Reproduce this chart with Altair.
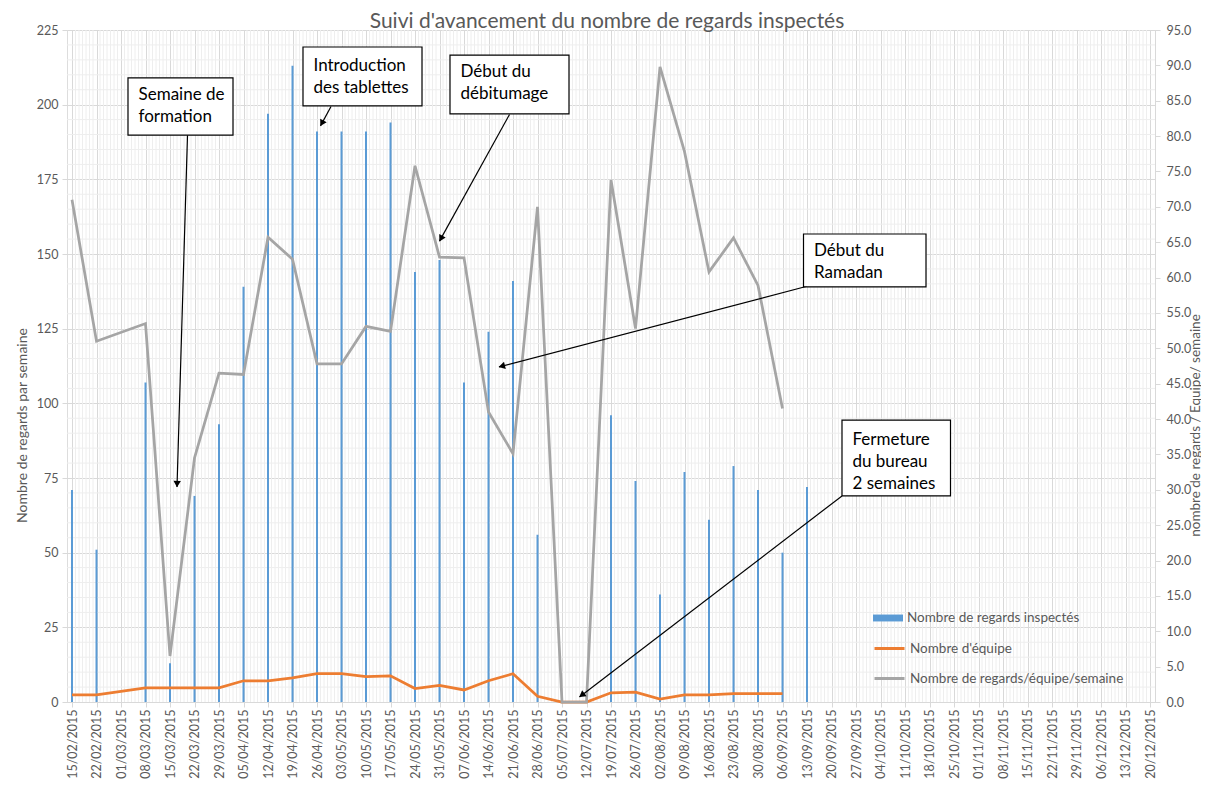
import math
import altair as alt
import pandas as pd

# ---------------- data ----------------
weeks = ["2015-02-15", "2015-02-22", "2015-03-01", "2015-03-08", "2015-03-15", "2015-03-22",
         "2015-03-29", "2015-04-05", "2015-04-12", "2015-04-19", "2015-04-26", "2015-05-03",
         "2015-05-10", "2015-05-17", "2015-05-24", "2015-05-31", "2015-06-07", "2015-06-14",
         "2015-06-21", "2015-06-28", "2015-07-05", "2015-07-12", "2015-07-19", "2015-07-26",
         "2015-08-02", "2015-08-09", "2015-08-16", "2015-08-23", "2015-08-30", "2015-09-06",
         "2015-09-13"]
regards = [71, 51, None, 107, 13, 69, 93, 139, 197, 213, 191, 191, 191, 194, 144, 148, 107,
           124, 141, 56, 0, 0, 96, 74, 36, 77, 61, 79, 71, 50, 72]
equipes = [1, 1, None, 2, 2, 2, 2, 3, 3, 3.4, 4, 4, 3.6, 3.7, 1.9, 2.35, 1.7, 3, 4, 0.8,
           0, 0, 1.3, 1.4, 0.4, 1.0, 1.0, 1.2, 1.2, 1.2, None]
ratio = [71, 51, None, 53.5, 6.5, 34.5, 46.5, 46.3, 65.7, 62.6, 47.8, 47.8, 53.1, 52.4, 75.8,
         62.9, 62.8, 41.0, 35.1, 70.0, 0, 0, 73.8, 52.8, 89.8, 77.8, 60.8, 65.6, 58.9, 41.5, None]

axis_start = "2015-02-15"
axis_end = "2015-12-20"

title_text = "Suivi d'avancement du nombre de regards inspectés"
left_title = "Nombre de regards par semaine"
right_title = "nombre de regards / Equipe/ semaine"
s_bar = "Nombre de regards inspectés"
s_eq = "Nombre d'équipe"
s_ratio = "Nombre de regards/équipe/semaine"

# annotations (data units: date, left-axis value)
box_x0 = ["2015-03-03", "2015-04-22", "2015-06-03", "2015-09-12", "2015-09-23"]
box_x1 = ["2015-04-02", "2015-05-26", "2015-07-07", "2015-10-17", "2015-10-24"]
box_top = [209, 219.3, 216.6, 156.7, 94.4]
box_bot = [189.8, 199.6, 196.9, 139, 69]
text_x = ["2015-03-06", "2015-04-25", "2015-06-06", "2015-09-15", "2015-09-26"]
text_y = [203.2, 212.9, 210.9, 151.0, 87.7]   # first line of each text
texts = ["Semaine de\nformation", "Introduction\ndes tablettes", "Début du\ndébitumage",
         "Début du\nRamadan", "Fermeture\ndu bureau\n2 semaines"]

arr_x0 = ["2015-03-20", "2015-04-30", "2015-06-20", "2015-09-13", "2015-09-23"]
arr_y0 = [189.8, 199.4, 196.7, 139.2, 69]
arr_x1 = ["2015-03-17", "2015-04-27", "2015-05-31", "2015-06-17", "2015-07-10"]
arr_y1 = [72.0, 192.9, 154.3, 112.2, 1.7]

# ---------------- layout ----------------
W, H = 1088, 672
LMAX, RMAX = 225, 95
FONT = "Lato"
TXT = "#595959"
MAJOR = "#D9D9D9"
MINOR = "#EEEEEE"

start = pd.Timestamp(axis_start)
end = pd.Timestamp(axis_end)
ndays = (end - start).days
sx = W / ndays
sy = H / LMAX


def dt(ts):
    return alt.DateTime(year=ts.year, month=ts.month, date=ts.day)


tick_dates = pd.date_range(start, end, freq="7D")
xscale = alt.Scale(domain=[dt(start), dt(end)], nice=False)
xaxis = alt.Axis(values=[dt(d) for d in tick_dates], format="%d/%m/%Y", labelAngle=270,
                 labelFont=FONT, labelFontSize=12.5, labelColor=TXT, grid=True, gridColor=MAJOR,
                 tickColor=MAJOR, domainColor=MAJOR, tickSize=5, labelPadding=2, title=None,
                 labelOverlap=False, labelFlush=False)


def X(field):
    return alt.X(f"{field}:T", scale=xscale, axis=xaxis)


lscale = alt.Scale(domain=[0, LMAX], nice=False, zero=True)
rscale = alt.Scale(domain=[0, RMAX], nice=False, zero=True)

left_axis = alt.Axis(orient="left", values=list(range(0, LMAX + 1, 25)), grid=True,
                     gridColor=MAJOR, domain=False, tickColor=MAJOR, tickSize=5,
                     labelFont=FONT, labelFontSize=12.5, labelColor=TXT, labelPadding=4,
                     title=left_title, titleFont=FONT, titleFontSize=14, titleColor=TXT,
                     titleFontWeight="normal", titleAngle=270, titleAlign="center",
                     titleBaseline="middle", titleX=-45, titleY=395)
right_axis = alt.Axis(orient="right", values=list(range(0, RMAX + 1, 5)), format=".1f",
                      grid=False, domainColor=MAJOR, tickColor=MAJOR, tickSize=5,
                      labelFont=FONT, labelFontSize=12.5, labelColor=TXT, labelPadding=6,
                      title=right_title, titleFont=FONT, titleFontSize=13.5, titleColor=TXT,
                      titleFontWeight="normal", titleAngle=270, titleAlign="center",
                      titleBaseline="middle", titleX=40, titleY=395)

# ---------------- frames ----------------
wk = pd.to_datetime(weeks)
bars_df = pd.DataFrame({"date": wk, "regards": regards, "serie": s_bar})
bars_df = bars_df[bars_df["regards"].notna() & (bars_df["regards"] > 0)]

rows = []
for d, e, r in zip(wk, equipes, ratio):
    if e is not None:
        rows.append({"date": d, "val": e, "serie": s_eq})
    if r is not None:
        rows.append({"date": d, "val": r, "serie": s_ratio})
lines_df = pd.DataFrame(rows)

all_days = pd.date_range(start, end, freq="D")
minor_v_df = pd.DataFrame({"d": [d for d in all_days if (d - start).days % 7 != 0]})
minor_h_df = pd.DataFrame({"v": [v for v in range(5, LMAX, 5) if v % 25 != 0]})

arrows_df = pd.DataFrame({"x0": pd.to_datetime(arr_x0), "y0": arr_y0,
                          "x1": pd.to_datetime(arr_x1), "y1": arr_y1})
heads = []
L = 4.0
for a in arrows_df.itertuples():
    ddays = (a.x1 - a.x0) / pd.Timedelta(days=1)
    dx = ddays * sx
    dy = -(a.y1 - a.y0) * sy
    ln = math.hypot(dx, dy)
    ux, uy = dx / ln, dy / ln
    ang = math.degrees(math.atan2(dx, -dy)) % 360
    hx = a.x1 - pd.Timedelta(hours=24 * ux * L / sx)
    hy = a.y1 + uy * L / sy
    heads.append({"hx": hx, "hy": hy, "ang": ang})
heads_df = pd.DataFrame(heads)

boxes_df = pd.DataFrame({"x0": pd.to_datetime(box_x0), "x1": pd.to_datetime(box_x1),
                         "top": box_top, "bot": box_bot})
texts_df = pd.DataFrame({"tx": pd.to_datetime(text_x), "ty": text_y, "label": texts})
title_df = pd.DataFrame({"t": [title_text]})

# ---------------- layers ----------------
minor_v = alt.Chart(minor_v_df).mark_rule(color=MINOR, strokeWidth=1).encode(x=X("d"))
minor_h = alt.Chart(minor_h_df).mark_rule(color=MINOR, strokeWidth=1).encode(
    y=alt.Y("v:Q", scale=lscale, axis=None))

bar_legend = alt.Legend(orient="none", legendX=806, legendY=573, title=None,
                        symbolType="M-1,-0.23L1,-0.23L1,0.23L-1,0.23Z", symbolSize=900,
                        symbolStrokeWidth=0, labelFont=FONT, labelFontSize=13.5,
                        labelColor=TXT, labelOffset=4, labelLimit=0, padding=0)
line_legend = alt.Legend(orient="none", legendX=806, legendY=602, title=None,
                         symbolType="stroke", symbolSize=900, symbolStrokeWidth=3,
                         labelFont=FONT, labelFontSize=13.5, labelColor=TXT, labelOffset=4,
                         labelLimit=0, padding=0, rowPadding=7)

bars = alt.Chart(bars_df).mark_bar(size=2).encode(
    x=X("date"),
    y=alt.Y("regards:Q", scale=lscale, axis=left_axis),
    color=alt.Color("serie:N", scale=alt.Scale(domain=[s_bar], range=["#5B9BD5"]),
                    legend=bar_legend),
)

lines = alt.Chart(lines_df).mark_line(strokeWidth=2.75).encode(
    x=X("date"),
    y=alt.Y("val:Q", scale=rscale, axis=right_axis),
    color=alt.Color("serie:N", scale=alt.Scale(domain=[s_eq, s_ratio],
                                               range=["#ED7D31", "#A5A5A5"]),
                    legend=line_legend),
)

arrows = alt.Chart(arrows_df).mark_rule(color="black", strokeWidth=1.2).encode(
    x=X("x0"), x2=alt.X2("x1"),
    y=alt.Y("y0:Q", scale=lscale, axis=None), y2=alt.Y2("y1"))

arrow_heads = alt.Chart(heads_df).mark_point(shape="triangle", filled=True, color="black",
                                             size=55, opacity=1).encode(
    x=X("hx"), y=alt.Y("hy:Q", scale=lscale, axis=None),
    angle=alt.Angle("ang:Q", scale=None))

boxes = alt.Chart(boxes_df).mark_rect(fill="white", stroke="black", strokeWidth=1.2).encode(
    x=X("x0"), x2=alt.X2("x1"),
    y=alt.Y("top:Q", scale=lscale, axis=None), y2=alt.Y2("bot"))

labels = alt.Chart(texts_df).mark_text(align="left", baseline="middle", font=FONT,
                                       fontSize=17, lineBreak="\n", lineHeight=22,
                                       color="black").encode(
    x=X("tx"), y=alt.Y("ty:Q", scale=lscale, axis=None), text="label:N")

title_mark = alt.Chart(title_df).mark_text(align="center", baseline="alphabetic", font=FONT,
                                           fontSize=21, color=TXT).encode(
    x=alt.value(W / 2 - 4), y=alt.value(-2), text="t:N")

chart = alt.layer(minor_v, minor_h, bars, lines, arrows, arrow_heads, boxes, labels,
                  title_mark).resolve_scale(
    y="independent", color="independent"
).resolve_legend(color="independent").properties(
    width=W, height=H,
    padding={"left": 59, "top": 22, "right": 46, "bottom": 77},
    autosize=alt.AutoSizeParams(type="none"),
).configure_view(strokeWidth=0).configure(background="white")

chart.save("out.html", embed_options={"renderer": "svg", "actions": False})
